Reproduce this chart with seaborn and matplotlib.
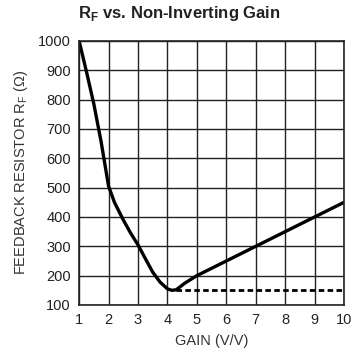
import matplotlib
matplotlib.use("Agg")
import matplotlib.pyplot as plt
import seaborn as sns
import pandas as pd

# values
gain = [1.0, 1.25, 1.5, 1.75, 2.0, 2.2, 2.5, 2.75, 3.0, 3.25, 3.5, 3.75, 4.0, 4.15, 4.3, 4.6, 5.0, 5.5, 6.0, 6.5, 7.0, 7.5, 8.0, 8.5, 9.0, 9.5, 10.0]
rf = [1000, 895, 785, 655, 505, 450, 390, 345, 305, 258, 212, 178, 155, 150, 152, 175, 200, 225, 250, 275, 300, 325, 350, 375, 400, 425, 450]
min_gain = [4.3, 10.0]
min_rf = [150, 150]

df = pd.DataFrame({"gain": gain, "rf": rf})
df_min = pd.DataFrame({"gain": min_gain, "rf": min_rf})

sns.set_theme(style="white")
plt.rcParams["font.family"] = ["Liberation Sans", "DejaVu Sans"]

fig = plt.figure(figsize=(3.58, 3.53), dpi=100)
ax = fig.add_axes([0.221, 0.136, 0.74, 0.748])

sns.lineplot(data=df, x="gain", y="rf", color="black", linewidth=2.4, ax=ax)
sns.lineplot(data=df_min, x="gain", y="rf", color="black", linewidth=2.0,
             linestyle=(0, (2, 1.2)), ax=ax)

ax.set_xlim(1, 10)
ax.set_ylim(100, 1000)
ax.set_xticks(range(1, 11))
ax.set_yticks(range(100, 1001, 100))
ax.grid(True, color="#222222", linewidth=1.0)
for s in ax.spines.values():
    s.set_color("#222222")
    s.set_linewidth(1.2)
ax.tick_params(axis="both", length=0, labelsize=10.5, colors="#222222", pad=6)

ax.set_xlabel("GAIN (V/V)", fontsize=10.5, color="#333333", labelpad=5)
ax.set_ylabel("FEEDBACK RESISTOR R$_\\mathregular{F}$ (Ω)", fontsize=10.5, color="#333333", labelpad=6)
fig.suptitle("R$_\\mathregular{F}$ vs. Non-Inverting Gain", fontsize=12, fontweight="bold",
             color="#222222", y=0.99)

fig.savefig("out.png", dpi=100)
